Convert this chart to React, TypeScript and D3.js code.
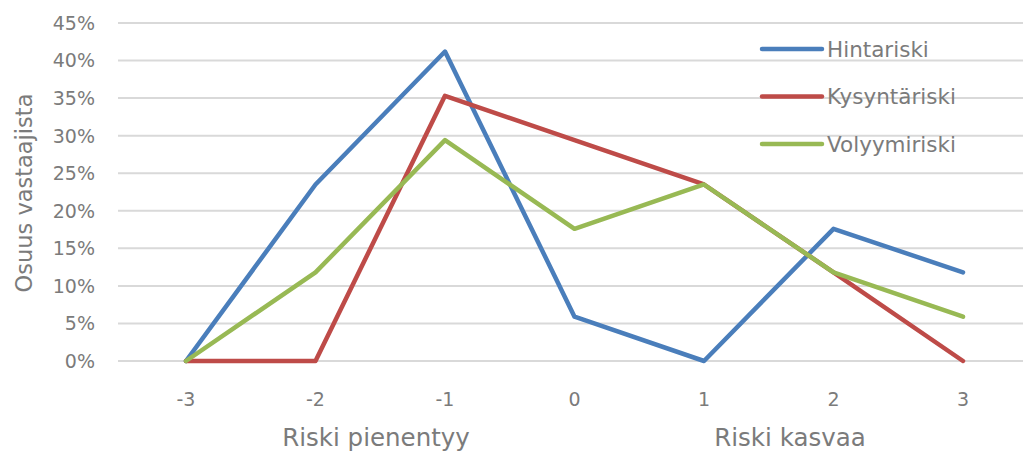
import React from "react";
import * as d3 from "d3";

const categories = ["-3", "-2", "-1", "0", "1", "2", "3"];
const hintariski = [0, 23.5, 41.2, 5.9, 0, 17.6, 11.8];
const kysyntariski = [0, 0, 35.3, 29.4, 23.5, 11.8, 0];
const volyymiriski = [0, 11.8, 29.4, 17.6, 23.5, 11.8, 5.9];
const yTicks = [0, 5, 10, 15, 20, 25, 30, 35, 40, 45];

const series = [
  { name: "Hintariski", values: hintariski, color: "#4A7EBB" },
  { name: "Kysyntäriski", values: kysyntariski, color: "#BE4B48" },
  { name: "Volyymiriski", values: volyymiriski, color: "#98B954" },
];

const W = 1023;
const H = 457;
const FONT = "'DejaVu Sans', 'Open Sans', sans-serif";
const TEXT = "#7b7b7b";

export default function App() {
  const x = d3.scalePoint<string>().domain(categories).range([186, 963]);
  const y = d3.scaleLinear().domain([0, 45]).range([361, 23]);
  const line = d3
    .line<number>()
    .x((_, i) => x(categories[i]) as number)
    .y((d) => y(d));

  return (
    <svg
      width={W}
      height={H}
      style={{ position: "absolute", left: 0, top: 0, background: "#fff" }}
      fontFamily={FONT}
    >
      {yTicks.map((t) => (
        <g key={t}>
          <line x1={118} x2={W} y1={y(t)} y2={y(t)} stroke="#d9d9d9" strokeWidth={2} />
          <text x={95} y={y(t)} dy="0.36em" textAnchor="end" fontSize={19} fill={TEXT}>
            {t}%
          </text>
        </g>
      ))}
      <text
        transform={`translate(32,193) rotate(-90)`}
        textAnchor="middle"
        fontSize={22.5}
        fill={TEXT}
      >
        Osuus vastaajista
      </text>
      {categories.map((c) => (
        <text key={c} x={x(c)} y={406} textAnchor="middle" fontSize={19} fill={TEXT}>
          {c}
        </text>
      ))}
      <text x={376} y={446} textAnchor="middle" fontSize={24.5} fill={TEXT}>
        Riski pienentyy
      </text>
      <text x={790} y={446} textAnchor="middle" fontSize={24.5} fill={TEXT}>
        Riski kasvaa
      </text>
      {series.map((s) => (
        <path
          key={s.name}
          d={line(s.values) || ""}
          fill="none"
          stroke={s.color}
          strokeWidth={4.5}
          strokeLinejoin="round"
          strokeLinecap="round"
        />
      ))}
      {series.map((s, i) => (
        <g key={s.name} transform={`translate(0,${49 + i * 47.5})`}>
          <line x1={762} x2={822} y1={0} y2={0} stroke={s.color} strokeWidth={4.5} strokeLinecap="round" />
          <text x={827} y={0} dy="0.36em" fontSize={21.5} fill={TEXT}>
            {s.name}
          </text>
        </g>
      ))}
    </svg>
  );
}
